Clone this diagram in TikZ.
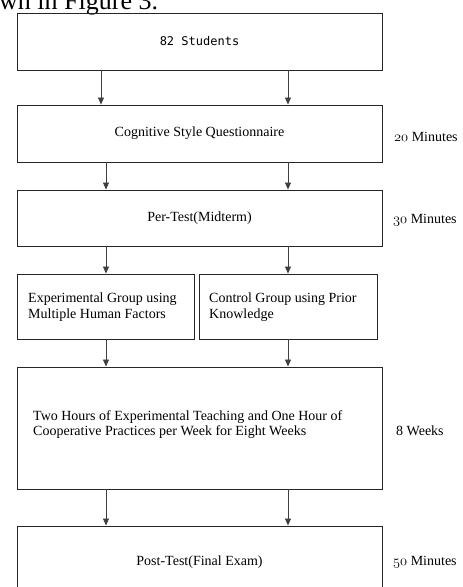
\documentclass[tikz,border=0pt]{standalone}
\usepackage{fontspec}
\setmainfont{Liberation Serif}
\newfontfamily\codefont{DejaVu Sans Mono}
\usetikzlibrary{arrows.meta}
% old-style figures taken from the math italic font
\newcommand\osdigits[1]{{\usefont{OML}{cmm}{m}{it}#1}}

\begin{document}
\begin{tikzpicture}[x=1pt,y=-1pt,
  box/.style={draw=black!85, line width=0.9pt, rectangle, inner sep=0pt},
  conn/.style={draw=black!75, line width=0.8pt, -{Triangle[length=7pt,width=6pt]}},
  body/.style={font=\fontsize{14}{15.5}\selectfont},
  side/.style={anchor=west, inner sep=0pt, font=\fontsize{14}{15.5}\selectfont}]
  \clip (0,0) rectangle (463,587);

  % tail of the preceding sentence
  \node[anchor=base west, inner sep=0pt, font=\fontsize{26}{26}\selectfont] (frag) at (-1,9) {wn in Figure 3.};

  % stages
  \node[box, minimum width=365pt, minimum height=57pt] (s1) at (199.5,41.5)
    {\codefont\fontsize{12}{14}\selectfont 82 Students};
  \node[box, body, minimum width=365pt, minimum height=57pt] (q) at (199.5,133.5)
    {Cognitive Style Questionnaire};
  \node[box, body, minimum width=365pt, minimum height=56pt] (pre) at (199.5,218)
    {Per-Test(Midterm)};
  \node[box, minimum width=177pt, minimum height=65pt] (eg) at (105.5,306.5) {};
  \node[box, minimum width=178pt, minimum height=65pt] (cg) at (288,306.5) {};
  \node[box, minimum width=365pt, minimum height=122pt] (two) at (199.5,428) {};
  \node[box, body, minimum width=365pt, minimum height=72pt] (post) at (199.5,562)
    {Post-Test(Final Exam)};

  % texts of the left-aligned boxes
  \node[body, anchor=west, align=left, inner sep=0pt] (egt) at (28,307)
    {Experimental Group using\\Multiple Human Factors};
  \node[body, anchor=west, align=left, inner sep=0pt] (cgt) at (209,307)
    {Control Group using Prior\\Knowledge};
  \node[body, anchor=west, align=left, inner sep=0pt] (twot) at (33,424.5)
    {Two Hours of Experimental Teaching and One Hour of\\Cooperative Practices per Week for Eight Weeks};

  % durations
  \node[side] (d1) at (394,137) {\osdigits{20} Minutes};
  \node[side] (d2) at (393,220) {\osdigits{30} Minutes};
  \node[side] (d3) at (396,431) {8 Weeks};
  \node[side] (d4) at (393,562) {\osdigits{50} Minutes};

  % arrow columns
  \coordinate (ca) at (101,0);
  \coordinate (cc) at (106,0);
  \coordinate (cb) at (288,0);

  \draw[conn] (s1.south -| ca) -- (q.north -| ca);
  \draw[conn] (s1.south -| cb) -- (q.north -| cb);
  \draw[conn] (q.south -| cc) -- (pre.north -| cc);
  \draw[conn] (q.south -| cb) -- (pre.north -| cb);
  \draw[conn] (pre.south -| cc) -- (eg.north -| cc);
  \draw[conn] (pre.south -| cb) -- (cg.north -| cb);
  \draw[conn] (eg.south -| cc) -- (two.north -| cc);
  \draw[conn] (cg.south -| cb) -- (two.north -| cb);
  \draw[conn] (two.south -| cc) -- (post.north -| cc);
  \draw[conn] (two.south -| cb) -- (post.north -| cb);
\end{tikzpicture}
\end{document}
